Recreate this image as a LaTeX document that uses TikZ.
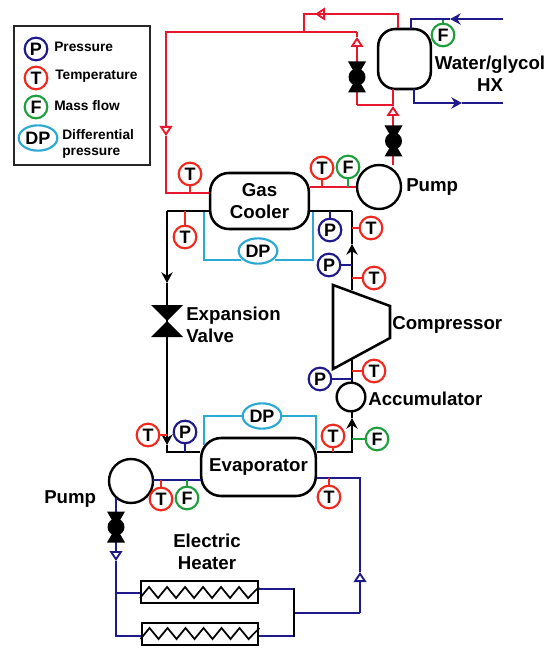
\documentclass[tikz,border=0pt]{standalone}
\usepackage{fontspec}
\setmainfont{Liberation Sans}
\usetikzlibrary{arrows.meta,shapes.geometric}
\definecolor{cred}{HTML}{E8172E}
\definecolor{ired}{HTML}{F0281E}
\definecolor{cblue}{HTML}{1E1A8C}
\definecolor{cgreen}{HTML}{1E9E3C}
\definecolor{ccyan}{HTML}{2BA8D4}
\tikzset{
 redpipe/.style={draw=cred,line width=1.75pt},
 bluepipe/.style={draw=cblue,line width=1.75pt},
 blackpipe/.style={draw=black,line width=2pt},
 cyanpipe/.style={draw=ccyan,line width=1.2pt},
 openarrow/.style={-{Triangle[open,length=7.5pt,width=9.5pt,line width=1.4pt]}},
 solidarrow/.style={-{Stealth[length=8pt,width=8.5pt]}},
 instr/.style={circle,line width=1.6pt,fill=white,minimum size=17pt,inner sep=0pt,font=\fontsize{13.5}{14}\selectfont\bfseries},
 tinst/.style={instr,draw=ired},
 pinst/.style={instr,draw=cblue},
 finst/.style={instr,draw=cgreen},
 dpinst/.style={ellipse,draw=ccyan,line width=1.6pt,fill=white,minimum width=29pt,minimum height=19pt,inner sep=0pt,font=\fontsize{13.5}{14}\selectfont\bfseries},
 stemT/.style={draw=ired,line width=1.2pt},
 stemP/.style={draw=cblue,line width=1.2pt},
 stemF/.style={draw=cgreen,line width=1.2pt},
 unit/.style={draw=black,line width=1.9pt,fill=white,rounded corners=14pt,align=center,inner sep=0pt,font=\fontsize{14}{16.5}\selectfont\bfseries},
 circ/.style={circle,draw=black,line width=1.8pt,fill=white,inner sep=0pt},
 heater/.style={rectangle,draw=black,line width=1.7pt,fill=white,inner sep=0pt,minimum width=87.5pt,minimum height=17pt},
 lab/.style={inner sep=0pt,align=center,font=\fontsize{14}{16.5}\selectfont\bfseries},
 leglab/.style={inner sep=0pt,anchor=west,align=left,font=\fontsize{10.3}{12.5}\selectfont\bfseries},
}
\newcommand{\myvalve}[4]{\fill[black] (#1-#3,#2-#4) -- (#1+#3,#2-#4) -- (#1-#3,#2+#4) -- (#1+#3,#2+#4) -- cycle;}
\newcommand{\ballvalve}[2]{\myvalve{#1}{#2}{9}{15.5}\fill[black] (#1,#2) circle[radius=8.5];}
\begin{document}
\begin{tikzpicture}[x=0.75pt,y=-0.75pt]
\useasboundingbox (0,0) rectangle (550,648);
\fill[white] (0,0) rectangle (550,648);
% legend
\draw[line width=1.3pt,draw=black!85] (14,26) rectangle (150,165);
\node[pinst] (lp) at (36,49) {P};
\node[tinst] (lt) at (36,78) {T};
\node[finst] (lf) at (36,107) {F};
\node[dpinst] (ldp) at (38,138) {DP};
\node[leglab] (llp) at (54,47) {Pressure};
\node[leglab] (llt) at (55,76) {Temperature};
\node[leglab] (llf) at (54,106) {Mass flow};
\node[leglab] (lld) at (62,144) {Differential\\pressure};
% equipment nodes
\node[unit,minimum width=74pt,minimum height=42pt] (gc) at (259.5,201) {Gas\\Cooler};
\node[unit,minimum width=86pt,minimum height=43.5pt,rounded corners=15pt] (ev) at (258.5,467) {Evaporator};
\node[unit,minimum width=39.5pt,minimum height=45pt,rounded corners=13pt] (hx) at (404.5,59) {};
\node[circ,minimum size=33pt] (pu1) at (379,187) {};
\node[circ,minimum size=33pt] (pu2) at (131,481) {};
\node[circ,minimum size=21.5pt] (acc) at (351,397) {};
\node[heater] (h1) at (199.5,592) {};
\node[heater] (h2) at (200,634) {};
% coordinates
\coordinate (r1) at (166,193);
\coordinate (r2) at (166,32);
\coordinate (r3) at (357,32);
\coordinate (r4) at (357,105);
\coordinate (r5) at (393,105);
\coordinate (r6) at (304,32);
\coordinate (r7) at (304,14);
\coordinate (r8) at (398,14);
\coordinate (bl) at (167,211);
\coordinate (br) at (352,211);
\coordinate (cl) at (167,452);
\coordinate (cr) at (352,452);
% red loop
\draw[redpipe,openarrow] (r3) -- (r2) -- (166,136);
\draw[redpipe] (166,136) -- (r1) -- (gc.west |- r1);
\draw[redpipe,openarrow] (r4) -- (357,37);
\draw[redpipe] (357,37) -- (r3);
\draw[redpipe] (r4) -- (r5);
\draw[redpipe,openarrow] (393,165) -- (393,106);
\draw[redpipe] (393,106) -- (393,89);
\draw[redpipe] (r6) -- (r7) -- (r8) -- (r8 |- hx.north);
\draw[redpipe,openarrow] (345,14) -- (315,14);
\draw[redpipe] (gc.east |- pu1) -- (pu1.west);
% blue water
\draw[bluepipe,solidarrow] (503,19) -- (450,19);
\draw[bluepipe] (450,19) -- (411,19) -- (411,29);
\draw[bluepipe,solidarrow] (414,89) -- (414,103) -- (462,103);
\draw[bluepipe] (462,103) -- (503,103);
% black refrigerant
\draw[blackpipe] (gc.west |- bl) -- (bl);
\draw[blackpipe,solidarrow] (bl) -- (167,283);
\draw[blackpipe,solidarrow] (167,283) -- (167,445);
\draw[blackpipe] (167,445) -- (cl) -- (ev.west |- cl);
\draw[blackpipe] (gc.east |- br) -- (br);
\draw[blackpipe,solidarrow] (352,290) -- (352,244);
\draw[blackpipe] (352,244) -- (br);
\draw[blackpipe] (352,360) -- (352,383);
\draw[blackpipe,solidarrow] (ev.east |- cr) -- (cr) -- (352,418);
\draw[blackpipe] (352,418) -- (352,411);
% evaporator blue loop
\draw[bluepipe] (201,480) -- (153,480);
\coordinate (b1) at (360,478);
\coordinate (b2) at (360,613);
\draw[bluepipe] (ev.east |- b1) -- (b1) -- (360,572);
\draw[bluepipe,openarrow] (b2) -- (360,572);
\draw[bluepipe] (b2) -- (294,613);
\coordinate (b3) at (116,593);
\coordinate (b4) at (116,636);
\draw[bluepipe,openarrow] (116,498) -- (116,561);
\draw[bluepipe] (116,561) -- (b4) -- (h2.west |- b4);
\draw[bluepipe] (b3) -- (h1.west |- b3);
\draw[bluepipe] (259,589) -- (294,589);
\draw[bluepipe] (h2.east |- b4) -- (294,636);
\draw[black,line width=1.7pt] (294,588) -- (294,637);
% heater zigzags
\foreach \n/\yt/\yb in {h1/587/598,h2/628/639}{
 \draw[black,line width=1.3pt] (\n.west |- 0,\yb)
   -- ++(9,-11) -- ++(9,11) -- ++(9,-11) -- ++(9,11) -- ++(9,-11) -- ++(9,11) -- ++(9,-11)
   -- ++(9,11) -- ++(9,-11) -- ++(9,11) -- ++(9,-11) -- ++(9,11) -- (\n.east |- 0,\yt);
}
% valves
\ballvalve{357}{77}
\ballvalve{393.5}{141}
\ballvalve{116}{527}
\myvalve{167}{321}{16}{16}
% compressor
\draw[black,line width=1.9pt,fill=white] (333,285) -- (390,306) -- (390,338) -- (333,369) -- cycle;
% DP lines
\node[dpinst] (dp1) at (258,251) {DP};
\node[dpinst] (dp2) at (262,416) {DP};
\draw[cyanpipe] (204,212) -- (204,260) -- (241,260);
\draw[cyanpipe] (275,260) -- (313,260) -- (313,212);
\draw[cyanpipe] (204,445) -- (204,416) -- (dp2.west);
\draw[cyanpipe] (dp2.east) -- (316,416) -- (316,450);
% instruments
\node[tinst] (t1) at (190,174) {T};
\node[tinst] (t2) at (185,237) {T};
\node[tinst] (t3) at (322,168) {T};
\node[finst] (f1) at (348,167) {F};
\node[finst] (f2) at (443,35) {F};
\node[pinst] (p1) at (330,230) {P};
\node[tinst] (t4) at (371,228) {T};
\node[pinst] (p2) at (329,265) {P};
\node[tinst] (t5) at (374,278) {T};
\node[tinst] (t6) at (374,371) {T};
\node[pinst] (p3) at (320,379) {P};
\node[tinst] (t7) at (148,435) {T};
\node[pinst] (p4) at (185,432) {P};
\node[tinst] (t8) at (333,436) {T};
\node[finst] (f3) at (377,439) {F};
\node[tinst] (t9) at (161,499) {T};
\node[finst] (f4) at (187,498) {F};
\node[tinst] (t10) at (329,497) {T};
% stems
\draw[stemT] (t1.south) -- (t1.south |- r1);
\draw[stemT] (t2.north) -- (t2.north |- bl);
\draw[stemT] (t3.south) -- (t3.south |- pu1);
\draw[stemF] (f1.south) -- (f1.south |- pu1);
\draw[stemF] (f2.north) -- (443,20);
\draw[stemP] (p1.north) -- (p1.north |- br);
\draw[stemT] (t4.west) -- (t4.west -| br);
\draw[stemP] (p2.east) -- (p2.east -| br);
\draw[stemT] (t5.west) -- (t5.west -| br);
\draw[stemT] (t6.west) -- (t6.west -| br);
\draw[stemP,line width=1.6pt] (p3.east) -- (p3.east -| br);
\draw[stemT] (t7.east) -- (t7.east -| cl);
\draw[stemP] (p4.south) -- (p4.south |- cl);
\draw[stemT] (t8.south) -- (t8.south |- cr);
\draw[stemF] (f3.west) -- (f3.west -| cr);
\draw[stemT] (t9.north) -- (161,480);
\draw[stemF] (f4.north) -- (187,480);
\draw[stemT] (t10.north) -- (t10.north |- b1);
% labels
\node[lab] (l1) at (490,74) {Water/glycol\\HX};
\node[lab,anchor=west] (l2) at (406,187) {Pump};
\node[lab,anchor=west,align=left] (l3) at (186,324.5) {Expansion\\Valve};
\node[lab,anchor=west] (l4) at (392,325) {Compressor};
\node[lab,anchor=west] (l5) at (368,399) {Accumulator};
\node[lab,anchor=west] (l6) at (44,499) {Pump};
\node[lab] (l7) at (207,551.5) {Electric\\Heater};
\end{tikzpicture}
\end{document}
